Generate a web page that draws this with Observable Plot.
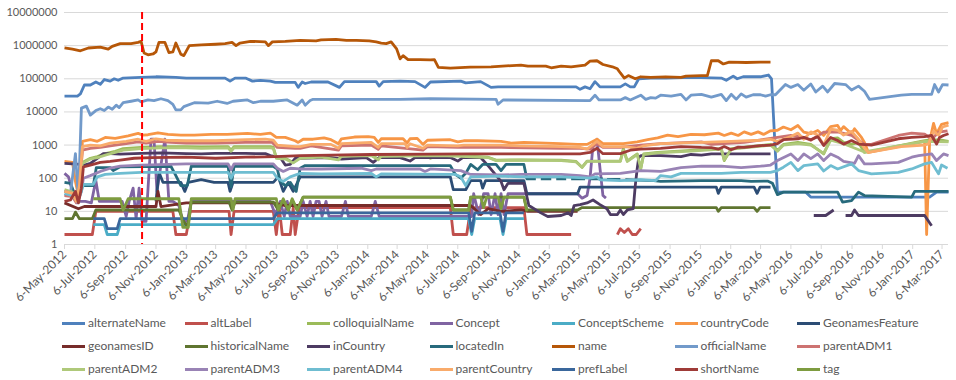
<!DOCTYPE html>
<html><head><meta charset="utf-8">
<script src="https://cdn.jsdelivr.net/npm/d3@7"></script>
<script src="https://cdn.jsdelivr.net/npm/@observablehq/plot@0.6"></script>
<style>
body{margin:0;background:#fff;font-family:Lato,"Liberation Sans",sans-serif;}
#chart{position:relative;width:956px;height:380px;overflow:hidden;}
.item{position:absolute;display:flex;align-items:center;font-size:12px;color:#595959;white-space:nowrap;line-height:14px;}
.sw{width:23px;height:3px;margin-right:3px;}
</style></head><body><div id="chart"></div>
<script>
const seriesNames = ["alternateName","altLabel","colloquialName","Concept","ConceptScheme","countryCode","GeonamesFeature","geonamesID","historicalName","inCountry","locatedIn","name","officialName","parentADM1","parentADM2","parentADM3","parentADM4","parentCountry","prefLabel","shortName","tag"];
const seriesColors = ["#4F81BD","#C0504D","#9BBB59","#8064A2","#4BACC6","#F79646","#2C4D75","#772C2A","#5F7530","#4D3B62","#276A7C","#B65708","#729ACA","#CD7371","#AFC97A","#9983B5","#6FBDD1","#F9AB6B","#3A679C","#9F3B38","#7E9C40"];
const tickDates = ["2012-05-06","2012-07-06","2012-09-06","2012-11-06","2013-01-06","2013-03-06","2013-05-06","2013-07-06","2013-09-06","2013-11-06","2014-01-06","2014-03-06","2014-05-06","2014-07-06","2014-09-06","2014-11-06","2015-01-06","2015-03-06","2015-05-06","2015-07-06","2015-09-06","2015-11-06","2016-01-06","2016-03-06","2016-05-06","2016-07-06","2016-09-06","2016-11-06","2017-01-06","2017-03-06"];
const yTicks = [1,10,100,1000,10000,100000,1000000,10000000];
const markerDate = "2012-10-09";
const xStart = "2012-05-06", xEnd = "2017-03-19";

const alternateNameData = [["2012-05-06",30000],["2012-06-01",30000],["2012-06-07",35000],["2012-06-15",65000],["2012-06-27",65000],["2012-07-08",80000],["2012-07-17",68000],["2012-07-25",95000],["2012-08-06",85000],["2012-08-14",100000],["2012-08-22",90000],["2012-09-01",105000],["2012-10-07",110000],["2012-11-06",115000],["2012-12-16",110000],["2013-01-06",105000],["2013-02-05",105000],["2013-03-25",105000],["2013-04-04",85000],["2013-04-14",105000],["2013-05-05",105000],["2013-05-19",85000],["2013-06-04",90000],["2013-06-24",85000],["2013-07-04",78000],["2013-08-13",78000],["2013-08-19",55000],["2013-08-27",80000],["2013-09-02",72000],["2013-09-14",80000],["2013-10-18",80000],["2013-11-10",55000],["2013-11-20",82000],["2014-01-23",82000],["2014-01-29",60000],["2014-02-06",82000],["2014-03-12",85000],["2014-04-11",82000],["2014-05-01",55000],["2014-05-12",80000],["2014-07-12",85000],["2014-07-22",75000],["2014-08-21",82000],["2014-09-11",55000],["2014-09-25",57000],["2015-03-01",57000],["2015-03-09",48000],["2015-03-19",57000],["2015-03-29",50000],["2015-04-08",82000],["2015-04-18",57000],["2015-05-29",57000],["2015-06-08",70000],["2015-06-18",57000],["2015-06-26",57000],["2015-07-05",100000],["2015-07-29",105000],["2015-08-28",105000],["2015-10-18",110000],["2015-12-18",105000],["2015-12-28",90000],["2016-01-11",120000],["2016-01-19",100000],["2016-01-31",115000],["2016-03-06",115000],["2016-03-22",130000],["2016-03-28",100000],["2016-04-09",38],["2016-06-05",38],["2016-06-15",27],["2017-02-09",27],["2017-02-23",38],["2017-03-19",38]];
const altLabelData = [["2012-05-06",2],["2012-07-01",2],["2012-07-08",10],["2012-12-10",10],["2012-12-16",2],["2013-01-06",2],["2013-01-14",10],["2013-04-02",10],["2013-04-06",2],["2013-04-12",10],["2013-06-30",10],["2013-07-06",2],["2013-07-12",13],["2013-07-18",2],["2013-08-03",2],["2013-08-09",13],["2013-08-13",2],["2013-08-21",13],["2014-06-21",13],["2014-06-27",2],["2014-07-24",2],["2014-08-01",13],["2014-11-16",13],["2014-11-22",2],["2015-02-19",2],["2015-04-01",null],["2015-05-23",2],["2015-05-29",3],["2015-06-06",2.3],["2015-06-14",3],["2015-06-22",2],["2015-06-30",2],["2015-07-09",3]];
const colloquialNameData = [["2012-05-06",40],["2012-05-22",35],["2012-06-01",20],["2012-06-07",40],["2012-06-11",300],["2012-06-27",400],["2012-07-11",450],["2012-07-27",550],["2012-08-16",650],["2012-09-01",780],["2012-10-07",850],["2012-11-16",900],["2013-01-06",900],["2013-02-05",880],["2013-03-31",900],["2013-04-06",700],["2013-04-12",900],["2013-06-24",900],["2013-06-30",850],["2013-07-06",420],["2013-07-24",400],["2013-08-09",300],["2013-08-23",420],["2013-10-04",450],["2013-11-08",380],["2013-11-14",480],["2014-01-13",500],["2014-01-27",380],["2014-02-02",480],["2014-05-01",480],["2014-05-12",400],["2014-06-01",500],["2014-07-12",480],["2014-09-05",430],["2014-09-21",350],["2014-11-10",360],["2015-01-30",350],["2015-03-01",320],["2015-03-13",215],["2015-03-23",330],["2015-05-29",330],["2015-06-04",780],["2015-06-12",330],["2015-06-24",450],["2015-07-02",540],["2015-07-09",190],["2015-07-15",540],["2015-08-12",600],["2015-10-18",690],["2015-12-18",780],["2015-12-24",340],["2016-01-07",780],["2016-02-02",860],["2016-03-26",1050],["2016-04-09",690],["2016-04-21",1050],["2016-05-20",1200],["2016-06-15",1050],["2016-07-11",540],["2016-07-25",1550],["2016-08-08",1650],["2016-08-20",1200],["2016-09-05",1050],["2016-09-19",1200],["2016-10-01",600],["2016-10-15",650],["2017-01-30",1370],["2017-02-13",1450],["2017-03-05",1400],["2017-03-19",1300]];
const conceptData = [["2012-05-06",140],["2012-05-14",110],["2012-05-22",40],["2012-05-30",20],["2012-06-17",20],["2012-06-29",18],["2012-07-08",85],["2012-07-15",20],["2012-08-30",20],["2012-09-07",7],["2012-09-13",20],["2012-09-21",50],["2012-09-27",6],["2012-10-03",50],["2012-10-09",5],["2012-10-17",5],["2012-10-27",1500],["2012-11-02",1500],["2012-11-08",40],["2012-11-16",250],["2012-11-24",1500],["2012-12-02",20],["2012-12-10",20],["2012-12-22",15],["2012-12-30",5],["2013-01-08",5],["2013-01-16",20],["2013-06-24",20],["2013-07-04",8],["2013-07-14",20],["2013-07-22",7],["2013-07-28",20],["2013-08-03",7],["2013-08-23",7],["2013-08-29",20],["2013-09-06",7],["2013-09-12",20],["2013-09-18",7],["2013-09-24",20],["2013-09-30",20],["2013-10-06",7],["2013-10-14",20],["2013-10-20",7],["2013-11-14",7],["2013-11-22",20],["2013-11-28",7],["2014-01-13",7],["2014-01-21",20],["2014-01-29",7],["2014-08-03",7],["2014-08-07",34],["2014-08-17",8],["2014-08-27",34],["2014-09-05",34],["2014-09-11",8],["2014-09-19",34],["2014-09-25",8],["2014-10-01",34],["2014-10-07",8],["2014-10-15",34],["2014-11-16",34],["2015-03-04",34],["2015-03-13",25],["2015-03-23",30],["2015-03-29",100],["2015-04-04",1000],["2015-04-12",1500],["2015-04-18",200],["2015-04-24",30],["2015-04-30",25]];
const conceptSchemeData = [["2012-07-03",4],["2012-07-25",4],["2012-07-31",2],["2012-08-20",2],["2012-08-26",4],["2013-06-30",4],["2013-07-08",6],["2014-07-28",6],["2014-08-03",2],["2014-08-09",6],["2014-09-29",6],["2014-10-05",2],["2014-10-11",6],["2014-11-16",6]];
const countryCodeData = [["2012-05-06",320],["2012-05-22",300],["2012-05-28",80],["2012-06-03",30],["2012-06-07",50],["2012-06-11",1300],["2012-06-27",1450],["2012-07-11",1300],["2012-07-27",1700],["2012-08-16",1600],["2012-09-11",1900],["2012-10-01",2250],["2012-10-11",2000],["2012-10-21",2050],["2012-11-10",2350],["2012-11-30",2100],["2012-12-26",2000],["2013-01-22",2000],["2013-02-25",2100],["2013-03-29",2100],["2013-05-09",2250],["2013-06-04",2100],["2013-06-24",2300],["2013-06-28",2100],["2013-07-06",1700],["2013-07-24",1700],["2013-08-13",1350],["2013-08-19",1200],["2013-08-29",1500],["2013-09-18",1500],["2013-10-10",1650],["2013-10-24",1450],["2013-11-08",1100],["2013-11-14",1550],["2013-12-10",1750],["2014-01-07",1800],["2014-01-19",1700],["2014-01-27",1200],["2014-02-02",1550],["2014-03-18",1550],["2014-03-26",1150],["2014-04-01",1550],["2014-04-15",1600],["2014-04-27",1050],["2014-05-06",1400],["2014-06-21",1450],["2014-07-06",1250],["2014-07-18",1350],["2014-08-15",1350],["2014-10-01",1300],["2014-10-21",1150],["2014-11-16",1200],["2015-01-28",1100],["2015-03-04",1050],["2015-03-23",1050],["2015-04-12",1500],["2015-04-24",1100],["2015-06-04",1100],["2015-07-02",1250],["2015-07-23",1450],["2015-08-12",1650],["2015-09-01",2000],["2015-09-22",1800],["2015-10-18",2100],["2015-11-14",2050],["2015-12-12",2300],["2015-12-24",1950],["2016-01-07",2300],["2016-01-21",1950],["2016-02-02",2500],["2016-02-16",2100],["2016-03-01",2500],["2016-03-12",2100],["2016-03-26",2700],["2016-04-09",2800],["2016-04-21",3500],["2016-05-06",2900],["2016-05-20",3900],["2016-06-01",2450],["2016-06-15",2200],["2016-06-29",2750],["2016-07-11",1950],["2016-07-25",3600],["2016-08-08",3900],["2016-08-14",2750],["2016-08-20",3600],["2016-09-05",2200],["2016-09-11",3100],["2016-09-25",1700],["2016-10-01",1200],["2016-10-09",600],["2017-01-30",1300],["2017-02-03",2],["2017-02-09",1300],["2017-02-17",4500],["2017-02-23",2200],["2017-03-05",4200],["2017-03-19",4800]];
const geonamesFeatureData = [["2012-11-06",20],["2012-11-12",150],["2012-11-20",75],["2012-12-26",75],["2013-01-03",40],["2013-01-10",75],["2013-02-05",90],["2013-03-03",75],["2013-03-31",75],["2013-04-04",40],["2013-04-10",75],["2013-06-30",75],["2013-07-10",110],["2013-07-20",40],["2013-07-30",75],["2013-08-09",40],["2013-08-23",110],["2014-06-21",110],["2014-06-27",45],["2014-07-22",45],["2014-08-01",85],["2014-08-21",85],["2014-08-25",50],["2014-08-31",85],["2014-11-16",85],["2014-11-22",34],["2015-03-04",34],["2015-03-09",54],["2015-12-08",54],["2015-12-12",35],["2015-12-18",54],["2016-02-22",54],["2016-02-28",35],["2016-03-05",54],["2016-03-26",54]];
const geonamesIDData = [["2012-05-06",18],["2012-06-03",12],["2012-06-15",14],["2012-11-06",14],["2012-11-10",40],["2012-11-16",14],["2013-01-06",18],["2013-06-30",18],["2013-07-24",15],["2014-08-01",15],["2014-08-21",8],["2014-09-05",12],["2014-10-01",10],["2014-11-10",11],["2014-11-24",10],["2015-03-04",10]];
const historicalNameData = [["2012-05-06",6],["2012-05-22",6],["2012-05-28",9.5],["2012-06-05",6],["2012-07-01",6],["2012-07-08",11],["2012-12-22",11],["2013-01-01",5],["2013-01-08",3.3],["2013-01-16",19],["2013-04-02",19],["2013-04-08",11],["2013-04-14",19],["2013-06-30",19],["2013-07-10",11],["2013-07-20",22],["2013-07-30",11],["2013-08-07",22],["2013-08-17",11],["2013-08-29",27],["2014-06-21",27],["2014-06-27",11],["2014-07-28",11],["2014-08-01",27],["2014-11-16",27],["2014-11-22",11],["2015-03-04",11],["2015-03-13",13],["2015-12-08",13],["2015-12-12",10],["2015-12-18",13],["2016-02-22",13],["2016-02-28",10],["2016-03-05",13],["2016-03-26",13]];
const inCountryData = [["2012-05-06",280],["2012-06-07",260],["2012-06-15",250],["2012-06-27",280],["2012-07-11",400],["2012-07-23",550],["2012-08-06",550],["2012-08-26",530],["2012-10-07",560],["2012-11-16",580],["2013-01-06",550],["2013-02-05",540],["2013-03-06",560],["2013-05-05",560],["2013-06-14",550],["2013-06-24",480],["2013-07-04",450],["2013-07-14",420],["2013-07-24",250],["2013-08-03",260],["2013-08-13",400],["2013-10-24",420],["2013-11-14",380],["2014-01-03",420],["2014-01-17",300],["2014-01-29",420],["2014-03-12",420],["2014-04-01",330],["2014-04-11",420],["2014-06-21",420],["2014-07-06",330],["2014-07-16",420],["2014-08-21",420],["2014-09-07",220],["2014-10-01",80],["2014-10-07",45],["2014-10-15",70],["2014-11-16",70],["2014-11-26",15],["2014-12-20",9],["2015-01-03",7],["2015-01-30",7.5],["2015-02-13",9],["2015-02-19",7.5],["2015-02-25",15],["2015-03-09",16],["2015-03-23",18],["2015-04-04",22],["2015-04-18",16],["2015-05-02",12],["2015-05-09",8],["2015-05-23",8],["2015-05-29",11],["2015-06-04",8],["2015-06-12",11],["2015-06-24",12],["2015-06-28",60],["2015-07-02",200],["2015-07-05",420],["2015-07-09",480],["2015-08-18",480],["2015-09-28",450],["2015-10-18",520],["2015-11-08",500],["2015-11-28",540],["2016-03-06",540],["2016-03-26",540],["2016-05-01",null],["2016-06-21",7.5],["2016-07-15",7.5],["2016-07-31",11],["2016-08-12",null],["2016-08-24",7.5],["2016-09-05",7.5],["2016-09-11",11],["2016-09-19",7.5],["2017-01-30",7.5],["2017-02-13",3.7]];
const locatedInData = [["2012-05-06",75],["2012-05-18",70],["2012-06-01",20],["2012-06-11",60],["2012-07-03",60],["2012-07-09",210],["2012-08-06",210],["2012-08-12",170],["2012-08-26",220],["2012-12-06",230],["2012-12-16",120],["2012-12-26",60],["2013-01-08",60],["2013-01-16",230],["2013-03-31",230],["2013-04-06",55],["2013-04-12",230],["2013-06-30",230],["2013-07-08",190],["2013-07-14",80],["2013-07-24",60],["2013-08-03",75],["2013-08-15",40],["2013-08-23",200],["2013-09-02",240],["2014-06-21",240],["2014-07-01",130],["2014-07-12",100],["2014-07-22",140],["2014-08-01",260],["2014-08-15",180],["2014-08-25",260],["2014-09-21",260],["2014-10-01",170],["2014-10-11",260],["2014-11-16",260],["2014-11-22",95],["2014-12-10",95],["2014-12-15",null],["2014-12-20",95],["2015-01-10",95],["2015-01-15",null],["2015-01-20",95],["2015-02-09",95],["2015-02-14",null],["2015-02-19",95],["2015-03-19",95],["2015-03-24",null],["2015-03-29",95],["2015-04-24",95],["2015-04-28",null],["2015-05-02",92],["2015-05-29",92],["2015-06-03",null],["2015-06-08",90],["2015-07-02",88],["2015-08-04",85],["2015-08-18",80],["2015-11-08",85],["2016-01-27",85],["2016-02-16",80],["2016-03-20",82],["2016-03-30",70],["2016-04-09",32],["2016-04-21",38],["2016-08-08",38],["2016-08-18",19],["2016-09-05",21],["2016-09-19",38],["2016-10-01",30],["2017-01-04",27],["2017-01-10",40],["2017-03-19",40]];
const nameData = [["2012-05-06",850000],["2012-05-22",780000],["2012-06-07",700000],["2012-06-23",850000],["2012-07-17",900000],["2012-08-02",780000],["2012-08-10",950000],["2012-08-26",1150000],["2012-09-17",1150000],["2012-10-01",1250000],["2012-10-07",1350000],["2012-10-13",600000],["2012-10-21",530000],["2012-10-31",560000],["2012-11-06",650000],["2012-11-12",1250000],["2012-11-24",1250000],["2012-12-02",620000],["2012-12-10",650000],["2012-12-16",1200000],["2012-12-26",550000],["2013-01-01",500000],["2013-01-12",1000000],["2013-02-05",1050000],["2013-03-06",1100000],["2013-03-25",1150000],["2013-04-08",1250000],["2013-04-16",1000000],["2013-04-24",1200000],["2013-05-15",1350000],["2013-06-14",1300000],["2013-06-20",1000000],["2013-06-28",1300000],["2013-07-24",1350000],["2013-08-23",1450000],["2013-09-24",1400000],["2013-10-04",1500000],["2013-11-03",1550000],["2013-11-24",1450000],["2013-12-14",1450000],["2014-01-09",1400000],["2014-01-23",1300000],["2014-02-02",1200000],["2014-02-12",1150000],["2014-02-22",1300000],["2014-03-05",800000],["2014-03-12",400000],["2014-03-18",500000],["2014-03-28",380000],["2014-04-21",380000],["2014-05-12",370000],["2014-05-20",380000],["2014-05-28",220000],["2014-06-21",210000],["2014-07-31",225000],["2014-09-11",230000],["2014-11-10",260000],["2014-11-24",240000],["2014-12-30",240000],["2015-01-10",215000],["2015-01-30",240000],["2015-02-19",230000],["2015-03-19",260000],["2015-03-29",340000],["2015-04-12",350000],["2015-04-24",270000],["2015-05-13",230000],["2015-05-23",200000],["2015-05-29",150000],["2015-06-06",105000],["2015-06-14",125000],["2015-06-28",100000],["2015-07-09",115000],["2015-07-29",110000],["2015-08-28",115000],["2015-09-28",110000],["2015-10-08",120000],["2015-11-08",125000],["2015-11-20",125000],["2015-11-28",350000],["2015-12-12",350000],["2015-12-22",280000],["2016-01-03",320000],["2016-02-06",310000],["2016-03-06",320000],["2016-03-26",320000]];
const officialNameData = [["2012-05-06",30],["2012-05-18",35],["2012-05-28",550],["2012-06-03",25],["2012-06-09",13000],["2012-06-19",15000],["2012-06-27",8000],["2012-07-08",11000],["2012-07-17",12500],["2012-07-25",11000],["2012-08-02",14000],["2012-08-10",12000],["2012-08-18",16000],["2012-08-24",13500],["2012-09-01",19000],["2012-09-17",21000],["2012-10-01",23000],["2012-10-07",20000],["2012-10-21",23000],["2012-11-02",22000],["2012-11-16",25000],["2012-11-30",22000],["2012-12-10",17000],["2012-12-16",11500],["2012-12-26",11500],["2013-01-01",14500],["2013-01-22",19000],["2013-02-19",18500],["2013-03-09",21000],["2013-03-29",18000],["2013-04-10",21000],["2013-05-09",23000],["2013-05-21",19000],["2013-06-04",21000],["2013-06-30",21000],["2013-07-28",23000],["2013-08-17",16000],["2013-08-27",23000],["2013-09-02",16000],["2013-09-12",22000],["2013-09-18",24000],["2014-03-12",24000],["2014-05-12",25000],["2014-09-21",24000],["2014-09-25",17000],["2014-10-05",23000],["2015-03-29",22000],["2015-04-08",32000],["2015-04-16",23000],["2015-05-29",23000],["2015-06-08",27000],["2015-06-18",23000],["2015-07-09",32000],["2015-07-19",24000],["2015-07-29",27000],["2015-08-08",26000],["2015-08-18",32000],["2015-09-08",30000],["2015-09-28",34000],["2015-10-08",23000],["2015-10-18",32000],["2015-11-08",34000],["2015-11-28",28000],["2015-12-18",34000],["2015-12-28",22000],["2016-01-07",34000],["2016-01-17",24000],["2016-01-27",35000],["2016-02-06",28000],["2016-02-20",33000],["2016-03-06",33000],["2016-03-16",30000],["2016-03-26",33000],["2016-04-05",33000],["2016-04-25",67000],["2016-05-06",55000],["2016-05-20",67000],["2016-06-01",45000],["2016-06-15",70000],["2016-06-25",40000],["2016-07-09",60000],["2016-07-19",40000],["2016-08-02",72000],["2016-08-24",67000],["2016-09-05",46000],["2016-09-19",60000],["2016-10-01",42000],["2016-10-11",24000],["2016-12-14",32000],["2017-01-04",34000],["2017-02-13",34000],["2017-02-19",67000],["2017-02-27",40000],["2017-03-07",67000],["2017-03-19",65000]];
const parentADM1Data = [["2012-05-06",30],["2012-05-22",28],["2012-05-30",18],["2012-06-05",50],["2012-06-11",700],["2012-06-27",800],["2012-07-17",850],["2012-08-06",950],["2012-09-07",1100],["2012-10-01",1250],["2012-10-17",1150],["2012-11-10",1300],["2012-12-06",1200],["2013-01-06",1150],["2013-03-06",1150],["2013-05-05",1200],["2013-06-28",1200],["2013-07-08",850],["2013-08-13",800],["2013-08-23",800],["2013-09-14",950],["2013-11-08",700],["2013-11-14",950],["2014-01-13",1000],["2014-01-27",750],["2014-02-02",950],["2014-04-27",700],["2014-05-06",900],["2014-07-06",850],["2014-10-01",850],["2015-01-30",800],["2015-03-09",800],["2015-03-29",750],["2015-04-12",1100],["2015-04-24",850],["2015-05-29",850],["2015-07-09",1000],["2015-08-18",1100],["2015-11-08",1250],["2015-11-28",1050],["2016-02-02",1200],["2016-04-09",1700],["2016-05-06",1950],["2016-06-01",1700],["2016-06-15",1400],["2016-07-11",2450],["2016-08-08",2500],["2016-09-05",1950],["2016-09-19",1400],["2016-10-01",1050],["2016-10-15",1050],["2016-12-08",1950],["2017-01-04",2300],["2017-01-30",2150],["2017-02-13",1500],["2017-02-27",2450],["2017-03-17",2700]];
const parentADM2Data = [["2012-05-06",45],["2012-05-22",38],["2012-06-01",22],["2012-06-07",45],["2012-06-11",280],["2012-06-27",380],["2012-07-11",420],["2012-07-27",500],["2012-08-16",600],["2012-09-01",700],["2012-10-07",780],["2012-11-16",820],["2013-01-06",820],["2013-02-05",800],["2013-03-31",820],["2013-04-06",650],["2013-04-12",820],["2013-06-24",820],["2013-06-30",800],["2013-07-06",400],["2013-07-24",380],["2013-08-09",290],["2013-08-23",400],["2013-10-04",430],["2013-11-08",360],["2013-11-14",460],["2014-01-13",480],["2014-01-27",360],["2014-02-02",460],["2014-06-01",480],["2014-07-12",460],["2014-09-05",420],["2014-09-21",340],["2014-11-10",350],["2015-01-30",340],["2015-03-01",310],["2015-03-13",210],["2015-03-23",320],["2015-05-29",320],["2015-06-04",700],["2015-06-12",320],["2015-07-02",520],["2015-07-09",200],["2015-07-15",520],["2015-08-12",580],["2015-10-18",660],["2015-12-18",750],["2015-12-24",360],["2016-01-07",750],["2016-03-26",1000],["2016-04-09",650],["2016-04-21",1000],["2016-05-20",1100],["2016-06-15",1000],["2016-07-11",560],["2016-07-25",1400],["2016-08-20",1100],["2016-10-01",620],["2016-10-15",680],["2017-01-30",1300],["2017-03-19",1250]];
const parentADM3Data = [["2012-05-06",40],["2012-05-22",35],["2012-06-01",18],["2012-06-09",40],["2012-06-13",100],["2012-06-27",120],["2012-07-17",160],["2012-08-06",200],["2012-08-26",230],["2012-10-07",250],["2013-01-06",270],["2013-03-31",270],["2013-04-06",180],["2013-04-12",270],["2013-06-30",270],["2013-07-08",200],["2013-07-20",160],["2013-08-03",200],["2013-08-23",190],["2013-10-04",190],["2013-12-24",200],["2014-01-13",170],["2014-01-23",190],["2014-04-21",190],["2014-05-01",160],["2014-05-12",190],["2014-07-12",170],["2014-08-01",130],["2014-10-01",125],["2014-11-10",130],["2015-01-30",130],["2015-03-09",120],["2015-03-29",110],["2015-04-08",135],["2015-05-29",140],["2015-07-09",170],["2015-08-18",160],["2015-09-28",210],["2015-11-08",230],["2015-12-18",230],["2016-01-27",210],["2016-03-06",230],["2016-03-26",250],["2016-04-09",340],["2016-05-06",540],["2016-05-20",340],["2016-06-01",540],["2016-06-15",390],["2016-06-29",540],["2016-07-11",340],["2016-07-25",540],["2016-08-08",430],["2016-08-20",320],["2016-09-11",280],["2016-09-19",480],["2016-10-01",270],["2016-10-15",270],["2016-12-08",300],["2017-01-04",430],["2017-01-18",480],["2017-02-13",540],["2017-02-23",340],["2017-03-09",540],["2017-03-19",480]];
const parentADM4Data = [["2012-05-06",35],["2012-05-22",30],["2012-06-01",20],["2012-06-09",40],["2012-06-13",65],["2012-07-03",65],["2012-07-11",110],["2012-07-27",130],["2012-08-26",140],["2012-10-07",150],["2013-01-06",150],["2013-03-31",150],["2013-04-06",100],["2013-04-12",150],["2013-06-30",150],["2013-07-08",100],["2013-07-20",80],["2013-08-03",110],["2013-08-23",140],["2013-10-04",135],["2014-01-13",140],["2014-01-23",110],["2014-02-02",135],["2014-07-01",130],["2014-07-12",110],["2014-07-22",60],["2014-08-01",110],["2014-10-01",115],["2014-11-10",110],["2015-01-30",110],["2015-03-29",100],["2015-04-12",110],["2015-04-18",90],["2015-05-29",85],["2015-07-09",90],["2015-08-08",85],["2015-08-18",120],["2015-09-08",110],["2015-09-28",140],["2015-11-08",140],["2015-12-18",140],["2016-01-27",150],["2016-03-26",150],["2016-04-09",170],["2016-04-21",215],["2016-05-06",300],["2016-05-20",170],["2016-06-01",240],["2016-06-29",270],["2016-07-11",165],["2016-07-25",240],["2016-08-08",190],["2016-09-05",270],["2016-09-19",170],["2016-10-15",135],["2016-12-08",150],["2017-01-04",190],["2017-01-30",270],["2017-02-13",300],["2017-02-27",135],["2017-03-05",250],["2017-03-17",200]];
const parentCountryData = [["2012-05-06",40],["2012-05-22",35],["2012-05-30",20],["2012-06-05",60],["2012-06-11",900],["2012-06-27",1000],["2012-07-17",950],["2012-08-06",1150],["2012-09-07",1300],["2012-10-01",1500],["2012-10-17",1300],["2012-11-06",1550],["2012-11-26",1400],["2013-01-06",1350],["2013-03-06",1350],["2013-05-05",1450],["2013-06-14",1500],["2013-06-30",1400],["2013-07-08",1000],["2013-08-13",900],["2013-08-23",900],["2013-09-14",1050],["2013-10-24",1050],["2013-11-08",800],["2013-11-14",1100],["2014-01-13",1200],["2014-01-27",850],["2014-02-02",1100],["2014-03-22",1100],["2014-03-26",850],["2014-04-01",1100],["2014-04-27",800],["2014-05-06",1000],["2014-07-06",950],["2014-07-18",1000],["2014-10-01",1000],["2014-11-10",950],["2015-01-30",900],["2015-03-09",850],["2015-03-23",750],["2015-04-12",1300],["2015-04-24",900],["2015-06-08",900],["2015-07-02",800],["2015-07-15",950],["2015-08-18",1100],["2015-11-08",1200],["2016-01-07",1300],["2016-03-06",1400],["2016-03-26",1500],["2016-04-09",1300],["2016-05-06",1800],["2016-05-20",2300],["2016-06-01",1500],["2016-06-15",2500],["2016-06-29",2000],["2016-07-11",1000],["2016-07-25",3000],["2016-08-08",2800],["2016-08-20",2000],["2016-09-05",2600],["2016-09-19",1500],["2016-10-01",800],["2016-10-09",600],["2016-12-14",900],["2017-01-30",1000],["2017-02-07",1100],["2017-02-17",2600],["2017-02-27",2000],["2017-03-07",3500],["2017-03-19",4000]];
const prefLabelData = [["2012-07-03",6],["2012-07-25",6],["2012-07-31",3],["2012-08-20",3],["2012-08-26",6],["2013-06-30",6],["2013-07-08",9],["2014-07-28",9],["2014-08-03",2.5],["2014-08-09",9],["2014-09-29",9],["2014-10-05",2.5],["2014-10-11",9],["2014-11-16",9]];
const shortNameData = [["2012-05-06",20],["2012-05-18",22],["2012-05-28",40],["2012-06-03",18],["2012-06-09",50],["2012-06-13",220],["2012-06-27",250],["2012-07-17",300],["2012-08-06",320],["2012-08-26",350],["2012-09-23",400],["2012-10-27",420],["2013-01-06",430],["2013-03-06",400],["2013-05-05",430],["2013-07-04",450],["2013-08-23",480],["2013-10-24",500],["2014-01-13",520],["2014-05-12",530],["2014-08-01",540],["2014-11-10",540],["2015-03-09",540],["2015-03-29",600],["2015-04-12",800],["2015-04-24",550],["2015-05-29",550],["2015-06-18",700],["2015-07-09",750],["2015-08-18",800],["2015-09-28",900],["2015-11-08",850],["2015-11-28",840],["2015-12-12",750],["2015-12-24",900],["2016-01-07",720],["2016-01-21",870],["2016-02-02",850],["2016-03-01",950],["2016-03-26",1000],["2016-04-09",1100],["2016-04-21",1450],["2016-05-20",1550],["2016-06-01",1700],["2016-06-15",1450],["2016-06-29",1800],["2016-07-11",970],["2016-07-25",1700],["2016-08-08",1370],["2016-08-20",1070],["2016-09-05",1370],["2016-09-19",1070],["2016-10-15",1000],["2016-12-08",1550],["2017-01-04",1700],["2017-01-30",1800],["2017-02-13",1950],["2017-02-23",1070],["2017-03-01",1700],["2017-03-09",1950],["2017-03-19",2200]];
const tagData = [["2012-07-03",24],["2012-08-26",24],["2012-09-01",11],["2012-09-11",24],["2012-12-22",24],["2012-12-30",3.3],["2013-01-10",3.3],["2013-01-16",24],["2013-04-06",24],["2013-04-10",11],["2013-04-14",24],["2013-07-06",24],["2013-07-10",11],["2013-07-20",24],["2013-07-30",11],["2013-08-07",24],["2013-08-17",11],["2013-08-29",27],["2014-06-21",27],["2014-06-27",11],["2014-07-28",11],["2014-08-01",27],["2014-08-21",27],["2014-08-27",13],["2014-09-02",27],["2014-09-25",27],["2014-10-01",12],["2014-10-07",27],["2014-11-16",27],["2014-11-22",10]];

const seriesData = [alternateNameData, altLabelData, colloquialNameData, conceptData, conceptSchemeData, countryCodeData, geonamesFeatureData, geonamesIDData, historicalNameData, inCountryData, locatedInData, nameData, officialNameData, parentADM1Data, parentADM2Data, parentADM3Data, parentADM4Data, parentCountryData, prefLabelData, shortNameData, tagData];

const parse = s => new Date(s + "T00:00:00Z");
const fmt = d3.utcFormat("%-d-%b-%Y");

const lineMarks = seriesData.map((data, i) => Plot.line(data, {
  x: d => parse(d[0]),
  y: d => d[1],
  stroke: seriesColors[i],
  strokeWidth: 2.8,
  strokeLinejoin: "round",
  strokeLinecap: "butt"
}));

const chart = Plot.plot({
  width: 956,
  height: 300,
  marginLeft: 64,
  marginRight: 8,
  marginTop: 12,
  marginBottom: 56,
  style: {fontFamily: "Lato, 'Liberation Sans', sans-serif", background: "white", overflow: "visible"},
  x: {type: "utc", domain: [parse(xStart), parse(xEnd)]},
  y: {type: "log", domain: [1, 10000000]},
  marks: [
    Plot.gridY(yTicks, {stroke: "#D9D9D9", strokeOpacity: 1, strokeWidth: 1}),
    Plot.ruleY([1], {stroke: "#D9D9D9", strokeWidth: 1}),
    Plot.axisY(yTicks, {tickSize: 0, tickPadding: 7, tickFormat: d => String(d), fontSize: 11, fill: "#595959", label: null}),
    Plot.axisX(tickDates.map(parse), {tickRotate: -45, tickFormat: fmt, tickSize: 5, tickPadding: 3, stroke: "#D9D9D9", fill: "#595959", fontSize: 12, label: null}),
    ...lineMarks,
    Plot.ruleX([parse(markerDate)], {stroke: "#FF0000", strokeWidth: 2, strokeDasharray: "7,4"})
  ]
});

const host = document.getElementById("chart");
host.appendChild(chart);

seriesNames.forEach((n, i) => {
  const row = Math.floor(i / 7), col = i % 7;
  const item = document.createElement("div");
  item.className = "item";
  item.style.left = (62 + col * 122.5) + "px";
  item.style.top = (316 + row * 23) + "px";
  const sw = document.createElement("span");
  sw.className = "sw";
  sw.style.background = seriesColors[i];
  const tx = document.createElement("span");
  tx.textContent = n;
  item.appendChild(sw);
  item.appendChild(tx);
  host.appendChild(item);
});
</script>
</body></html>
